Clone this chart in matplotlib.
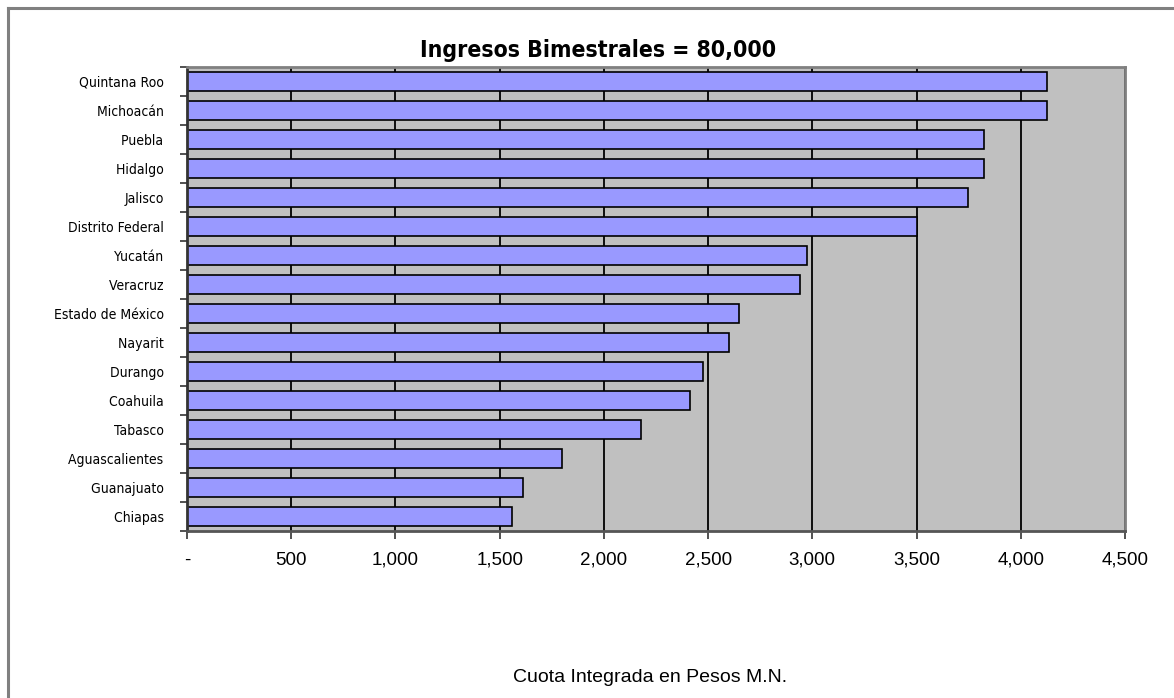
import matplotlib
matplotlib.use("Agg")
import matplotlib.pyplot as plt
from matplotlib.lines import Line2D
from matplotlib.ticker import FixedLocator, FuncFormatter
from matplotlib import font_manager

# Data
estados = [
    "Quintana Roo", "Michoacán", "Puebla", "Hidalgo", "Jalisco",
    "Distrito Federal", "Yucatán", "Veracruz", "Estado de México", "Nayarit",
    "Durango", "Coahuila", "Tabasco", "Aguascalientes", "Guanajuato", "Chiapas",
]
cuotas = [4125, 4125, 3825, 3825, 3745, 3500, 2973, 2940, 2650, 2600,
          2475, 2412, 2177, 1800, 1612, 1560]
x_ticks = [0, 500, 1000, 1500, 2000, 2500, 3000, 3500, 4000, 4500]

titulo = "Ingresos Bimestrales = 80,000"
eje_x = "Cuota Integrada en Pesos M.N."

# pick a condensed face if one is installed
condensed = [f for f in font_manager.fontManager.ttflist
             if ("Condensed" in f.fname or "Narrow" in f.fname)]
plain = [f.fname for f in condensed
         if not any(k in f.fname for k in ("Oblique", "Italic"))]
cond_reg = [p for p in plain if "Bold" not in p]
cond_bold = [p for p in plain if "Bold" in p]

def fp(files, fallback_family, weight="normal", size=10):
    if files:
        return font_manager.FontProperties(fname=sorted(files)[0], size=size)
    return font_manager.FontProperties(family=fallback_family, weight=weight, size=size)

W, H = 1174, 698
fig = plt.figure(figsize=(W / 100, H / 100), dpi=100)
fig.patch.set_facecolor("white")

ax = fig.add_axes([187 / W, 1 - 531 / H, (1125 - 187) / W, (531 - 67) / H])
ax.set_facecolor("#C0C0C0")

n = len(estados)
pos = list(range(n))
ax.barh(pos, cuotas, height=0.64, color="#9999FF", edgecolor="black",
        linewidth=1.2, zorder=3)

ax.set_xlim(0, 4500)
ax.set_ylim(n - 0.5, -0.5)

# vertical gridlines
ax.xaxis.set_major_locator(FixedLocator(x_ticks))
ax.grid(axis="x", color="black", linewidth=1.3, zorder=1)
ax.grid(axis="y", visible=False)

def fmt(v, _):
    return "-" if v == 0 else f"{int(v):,}"

ax.xaxis.set_major_formatter(FuncFormatter(fmt))
ax.tick_params(axis="x", direction="out", length=6, width=1.2, color="#333333",
               pad=9)
tick_fp = font_manager.FontProperties(family=["Liberation Sans", "DejaVu Sans"],
                                      size=13.5)
for lab in ax.get_xticklabels():
    lab.set_fontproperties(tick_fp)

# category labels with boundary tick marks
ax.set_yticks(pos)
ax.set_yticklabels([e + " " for e in estados])
lab_fp = fp(cond_reg, "Liberation Sans", size=10)
for lab in ax.get_yticklabels():
    lab.set_fontproperties(lab_fp)
ax.tick_params(axis="y", which="major", length=0, pad=14)
ax.yaxis.set_minor_locator(FixedLocator([i - 0.5 for i in range(n + 1)]))
ax.tick_params(axis="y", which="minor", direction="out", length=5, width=1.2,
               color="#333333")

for side, sp in ax.spines.items():
    sp.set_color("#808080")
    sp.set_linewidth(2)
    sp.set_zorder(4)
ax.spines["left"].set_color("#333333")
ax.spines["bottom"].set_color("#555555")

fig.text(598 / W, 1 - 50 / H, titulo, ha="center", va="center",
         fontproperties=fp(cond_bold, "Liberation Sans", weight="bold", size=16.5))
fig.text(650 / W, 1 - 677 / H, eje_x, ha="center", va="center",
         family=["Liberation Sans", "DejaVu Sans"], fontsize=14)

# outer chart frame
fig.add_artist(Line2D([8 / W, 8 / W], [0, 1 - 8 / H], color="#808080",
                      linewidth=2.2, transform=fig.transFigure))
fig.add_artist(Line2D([8 / W, 1], [1 - 8 / H, 1 - 8 / H], color="#808080",
                      linewidth=2.2, transform=fig.transFigure))

fig.savefig("out.png", dpi=100, facecolor="white")
